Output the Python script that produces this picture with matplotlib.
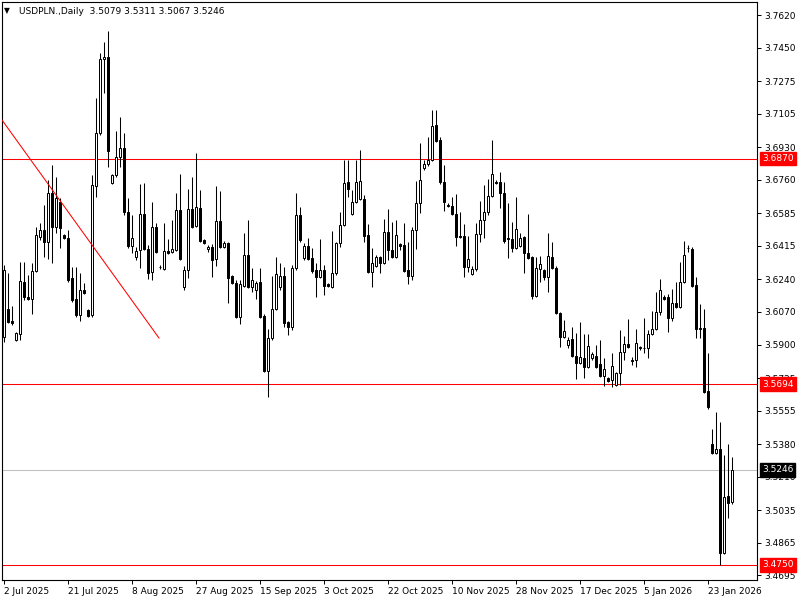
import matplotlib
matplotlib.use('Agg')
import matplotlib.pyplot as plt
import numpy as np

# USDPLN daily candles (one bar per trading day, Sunday bars included)
opens = [3.5939, 3.6086, 3.6023, 3.5924, 3.5955, 3.6226, 3.6150, 3.6138, 3.6284, 3.6461,
         3.6498, 3.6435, 3.6691, 3.6514, 3.6644, 3.6472, 3.6456, 3.6247, 3.6138, 3.6054,
         3.6185, 3.6080, 3.6054, 3.6728, 3.7004, 3.7391, 3.7401, 3.6743, 3.6785, 3.6879,
         3.6926, 3.6592, 3.6414, 3.6357, 3.6393, 3.6581, 3.6399, 3.6279, 3.6514, 3.6305,
         3.6294, 3.6388, 3.6383, 3.6393, 3.6602, 3.6200, 3.6289, 3.6608, 3.6519, 3.6613,
         3.6446, 3.6399, 3.6409, 3.6347, 3.6545, 3.6409, 3.6430, 3.6258, 3.6221, 3.6044,
         3.6206, 3.6367, 3.6200, 3.6185, 3.6226, 3.6049, 3.5762, 3.5934, 3.6086, 3.6200,
         3.6258, 3.6018, 3.5992, 3.6300, 3.6576, 3.6352, 3.6414, 3.6352, 3.6289, 3.6253,
         3.6289, 3.6216, 3.6200, 3.6273, 3.6430, 3.6524, 3.6748, 3.6581, 3.6644, 3.6660,
         3.6660, 3.6472, 3.6279, 3.6310, 3.6357, 3.6326, 3.6487, 3.6393, 3.6357, 3.6425,
         3.6420, 3.6289, 3.6258, 3.6498, 3.6639, 3.6822, 3.6842, 3.6863, 3.7046, 3.6968,
         3.6748, 3.6628, 3.6623, 3.6581, 3.6466, 3.6466, 3.6305, 3.6268, 3.6294, 3.6477,
         3.6550, 3.6592, 3.6675, 3.6751, 3.6748, 3.6691, 3.6454, 3.6451, 3.6404, 3.6414,
         3.6461, 3.6378, 3.6357, 3.6153, 3.6294, 3.6289, 3.6253, 3.6357, 3.6300, 3.6065,
         3.5939, 3.5898, 3.5929, 3.5840, 3.5804, 3.5830, 3.5783, 3.5830, 3.5840, 3.5798,
         3.5736, 3.5725, 3.5715, 3.5689, 3.5751, 3.5861, 3.5903, 3.5819, 3.5819, 3.5887,
         3.5884, 3.5882, 3.5955, 3.5981, 3.6070, 3.6148, 3.6148, 3.6039, 3.6117, 3.6096,
         3.6226, 3.6404, 3.6399, 3.6211, 3.5987, 3.5987, 3.5657, 3.5381, 3.5334, 3.5355,
         3.4812, 3.5110, 3.5079]
highs = [3.6315, 3.6273, 3.6101, 3.5965, 3.6331, 3.6331, 3.6263, 3.6326, 3.6514, 3.6534,
         3.6628, 3.6759, 3.6837, 3.6775, 3.6665, 3.6478, 3.6498, 3.6305, 3.6305, 3.6273,
         3.6221, 3.6085, 3.6785, 3.7187, 3.7422, 3.7479, 3.7537, 3.6790, 3.7015, 3.7088,
         3.7004, 3.6665, 3.6576, 3.6409, 3.6738, 3.6743, 3.6420, 3.6644, 3.6534, 3.6315,
         3.6534, 3.6451, 3.6550, 3.6691, 3.6790, 3.6310, 3.6712, 3.6775, 3.6900, 3.6707,
         3.6451, 3.6420, 3.6425, 3.6728, 3.6701, 3.6440, 3.6435, 3.6263, 3.6237, 3.6237,
         3.6482, 3.6550, 3.6300, 3.6232, 3.6300, 3.6059, 3.5981, 3.6258, 3.6357, 3.6326,
         3.6305, 3.6023, 3.6315, 3.6691, 3.6618, 3.6430, 3.6456, 3.6404, 3.6326, 3.6451,
         3.6315, 3.6221, 3.6493, 3.6435, 3.6592, 3.6863, 3.6863, 3.6707, 3.6863, 3.6915,
         3.6681, 3.6529, 3.6404, 3.6367, 3.6362, 3.6555, 3.6608, 3.6540, 3.6550, 3.6430,
         3.6534, 3.6435, 3.6514, 3.6754, 3.6952, 3.6863, 3.6983, 3.7124, 3.7124, 3.6983,
         3.6837, 3.6639, 3.6670, 3.6686, 3.6592, 3.6529, 3.6466, 3.6310, 3.6534, 3.6649,
         3.6733, 3.6764, 3.6968, 3.6759, 3.6801, 3.6748, 3.6639, 3.6540, 3.6670, 3.6482,
         3.6466, 3.6581, 3.6362, 3.6357, 3.6362, 3.6294, 3.6482, 3.6435, 3.6310, 3.6070,
         3.6028, 3.5939, 3.5992, 3.5960, 3.6018, 3.5955, 3.5955, 3.5861, 3.5898, 3.5924,
         3.5830, 3.5731, 3.5856, 3.5757, 3.5976, 3.5945, 3.6033, 3.5835, 3.5981, 3.5892,
         3.6039, 3.5976, 3.6075, 3.6174, 3.6242, 3.6159, 3.6164, 3.6190, 3.6226, 3.6331,
         3.6440, 3.6420, 3.6409, 3.6253, 3.6112, 3.6086, 3.5856, 3.5459, 3.5548, 3.5496,
         3.5323, 3.5381, 3.5311]
lows = [3.5913, 3.6012, 3.6002, 3.5920, 3.5924, 3.6132, 3.6135, 3.6059, 3.6278, 3.6446,
        3.6357, 3.6347, 3.6326, 3.6482, 3.6404, 3.6450, 3.6226, 3.6122, 3.6044, 3.6023,
        3.6164, 3.6044, 3.6044, 3.6670, 3.6995, 3.7213, 3.6827, 3.6738, 3.6775, 3.6827,
        3.6576, 3.6404, 3.6378, 3.6341, 3.6300, 3.6393, 3.6242, 3.6237, 3.6378, 3.6294,
        3.6289, 3.6373, 3.6378, 3.6388, 3.6341, 3.6185, 3.6247, 3.6509, 3.6514, 3.6435,
        3.6425, 3.6383, 3.6253, 3.6310, 3.6404, 3.6404, 3.6117, 3.6216, 3.6039, 3.6007,
        3.6200, 3.6195, 3.6174, 3.6138, 3.6039, 3.5757, 3.5626, 3.5924, 3.6081, 3.6185,
        3.5992, 3.5950, 3.5976, 3.6289, 3.6435, 3.6341, 3.6341, 3.6273, 3.6148, 3.6247,
        3.6159, 3.6200, 3.6195, 3.6263, 3.6409, 3.6519, 3.6670, 3.6576, 3.6639, 3.6655,
        3.6435, 3.6273, 3.6200, 3.6305, 3.6273, 3.6320, 3.6341, 3.6352, 3.6352, 3.6394,
        3.6279, 3.6216, 3.6237, 3.6399, 3.6587, 3.6811, 3.6832, 3.6858, 3.6957, 3.6738,
        3.6597, 3.6618, 3.6576, 3.6414, 3.6456, 3.6253, 3.6279, 3.6263, 3.6284, 3.6435,
        3.6456, 3.6576, 3.6670, 3.6738, 3.6613, 3.6430, 3.6352, 3.6383, 3.6399, 3.6409,
        3.6273, 3.6347, 3.6138, 3.6148, 3.6226, 3.6237, 3.6174, 3.6294, 3.6059, 3.5887,
        3.5934, 3.5882, 3.5835, 3.5720, 3.5798, 3.5725, 3.5778, 3.5819, 3.5778, 3.5731,
        3.5684, 3.5704, 3.5678, 3.5684, 3.5689, 3.5819, 3.5882, 3.5793, 3.5783, 3.5871,
        3.5856, 3.5830, 3.5950, 3.5976, 3.6054, 3.6132, 3.5965, 3.6023, 3.6091, 3.6091,
        3.6221, 3.6383, 3.6200, 3.5934, 3.5934, 3.5647, 3.5564, 3.5329, 3.5329, 3.4749,
        3.4807, 3.4995, 3.5067]
closes = [3.6289, 3.6018, 3.6012, 3.5960, 3.6232, 3.6148, 3.6140, 3.6284, 3.6472, 3.6498,
          3.6435, 3.6691, 3.6514, 3.6665, 3.6508, 3.6456, 3.6237, 3.6132, 3.6054, 3.6185,
          3.6169, 3.6049, 3.6733, 3.7004, 3.7391, 3.7401, 3.6910, 3.6785, 3.6879, 3.6926,
          3.6592, 3.6414, 3.6456, 3.6388, 3.6581, 3.6399, 3.6273, 3.6514, 3.6383, 3.6305,
          3.6388, 3.6378, 3.6399, 3.6602, 3.6347, 3.6289, 3.6608, 3.6514, 3.6618, 3.6440,
          3.6430, 3.6409, 3.6341, 3.6545, 3.6409, 3.6430, 3.6247, 3.6221, 3.6044, 3.6216,
          3.6367, 3.6200, 3.6237, 3.6221, 3.6044, 3.5762, 3.5934, 3.6086, 3.6268, 3.6258,
          3.6012, 3.5992, 3.6300, 3.6576, 3.6446, 3.6414, 3.6347, 3.6284, 3.6253, 3.6289,
          3.6206, 3.6206, 3.6273, 3.6430, 3.6524, 3.6743, 3.6712, 3.6644, 3.6748, 3.6754,
          3.6467, 3.6279, 3.6326, 3.6357, 3.6326, 3.6487, 3.6393, 3.6357, 3.6472, 3.6415,
          3.6284, 3.6258, 3.6498, 3.6639, 3.6759, 3.6842, 3.6863, 3.7041, 3.6962, 3.6748,
          3.6644, 3.6623, 3.6581, 3.6461, 3.6461, 3.6305, 3.6347, 3.6294, 3.6477, 3.6550,
          3.6592, 3.6675, 3.6790, 3.6745, 3.6691, 3.6440, 3.6449, 3.6404, 3.6503, 3.6456,
          3.6378, 3.6352, 3.6153, 3.6300, 3.6320, 3.6253, 3.6362, 3.6300, 3.6065, 3.5939,
          3.5971, 3.5924, 3.5840, 3.5804, 3.5835, 3.5783, 3.5892, 3.5851, 3.5783, 3.5736,
          3.5772, 3.5710, 3.5788, 3.5751, 3.5861, 3.5903, 3.5887, 3.5814, 3.5908, 3.5882,
          3.5880, 3.5955, 3.5981, 3.6070, 3.6185, 3.6138, 3.6039, 3.6117, 3.6096, 3.6226,
          3.6367, 3.6404, 3.6206, 3.5981, 3.5981, 3.5652, 3.5574, 3.5334, 3.5355, 3.4812,
          3.5104, 3.5073, 3.5246]

# date labels, one every 16 bars
date_labels = ['2 Jul 2025', '21 Jul 2025', '8 Aug 2025', '27 Aug 2025', '15 Sep 2025',
               '3 Oct 2025', '22 Oct 2025', '10 Nov 2025', '28 Nov 2025', '17 Dec 2025',
               '5 Jan 2026', '23 Jan 2026']
price_ticks = [3.7620, 3.7450, 3.7275, 3.7105, 3.6930, 3.6760, 3.6585, 3.6415, 3.6240,
               3.6070, 3.5900, 3.5725, 3.5555, 3.5380, 3.5210, 3.5035, 3.4865, 3.4695]

# drawn objects
levels = [3.6870, 3.5694, 3.4750]
bid = 3.5246
trend_x = [-0.5, 38.75]
trend_y = [3.7072, 3.5934]

plt.rcParams['font.family'] = ['DejaVu Sans']
fig = plt.figure(figsize=(8, 6), dpi=100)
ax = fig.add_axes([2 / 800, 20 / 600, 755 / 800, 578 / 600])

x = np.arange(len(opens))
o = np.array(opens)
h = np.array(highs)
l = np.array(lows)
c = np.array(closes)
up = c >= o

ax.vlines(x, l, h, color='black', linewidth=0.75, zorder=2)
bottoms = np.minimum(o, c)
heights = np.maximum(np.abs(c - o), 0.00004)
ax.bar(x, heights, bottom=bottoms, width=0.6,
       color=np.where(up, 'white', 'black'), edgecolor='black', linewidth=0.72, zorder=3)

for lv in levels:
    ax.axhline(lv, color='#ff0000', linewidth=0.75, zorder=1)
ax.axhline(bid, color='#c0c0c0', linewidth=0.75, zorder=1)
ax.plot(trend_x, trend_y, color='#ff0000', linewidth=0.75, zorder=4)

ax.set_xlim(-0.5, 188.25)
ax.set_ylim(3.4671, 3.7688)

ax.set_xticks(np.arange(len(date_labels)) * 16)
ax.set_xticklabels(date_labels, ha='left', fontsize=6.5)
ax.set_yticks(price_ticks)
ax.set_yticklabels([f'{p:.4f}' for p in price_ticks], fontsize=6.5)
ax.yaxis.tick_right()
ax.tick_params(axis='both', direction='out', length=3, width=0.7, pad=2, colors='black')
for s in ax.spines.values():
    s.set_linewidth(0.8)
    s.set_color('black')

# price boxes on the right axis (they cover the tick label underneath, as in the terminal)
def price_box(val, bg):
    ax.annotate(f'{val:.4f}', xy=(1, val), xycoords=('axes fraction', 'data'),
                xytext=(3.5, 0), textcoords='offset points', va='center', ha='left',
                fontsize=6.5, color='white', zorder=10, annotation_clip=False,
                bbox=dict(boxstyle='square,pad=0.25', facecolor=bg, edgecolor=bg))

for lv in levels:
    price_box(lv, '#ff0000')
price_box(bid, 'black')

fig.text(4 / 800, 1 - 11 / 600, '\u25bc', fontsize=5.5, va='center', ha='left')
fig.text(19 / 800, 1 - 11 / 600,
         'USDPLN.,Daily  3.5079 3.5311 3.5067 3.5246', fontsize=6.5, va='center', ha='left')

fig.savefig('out.png', dpi=100)
